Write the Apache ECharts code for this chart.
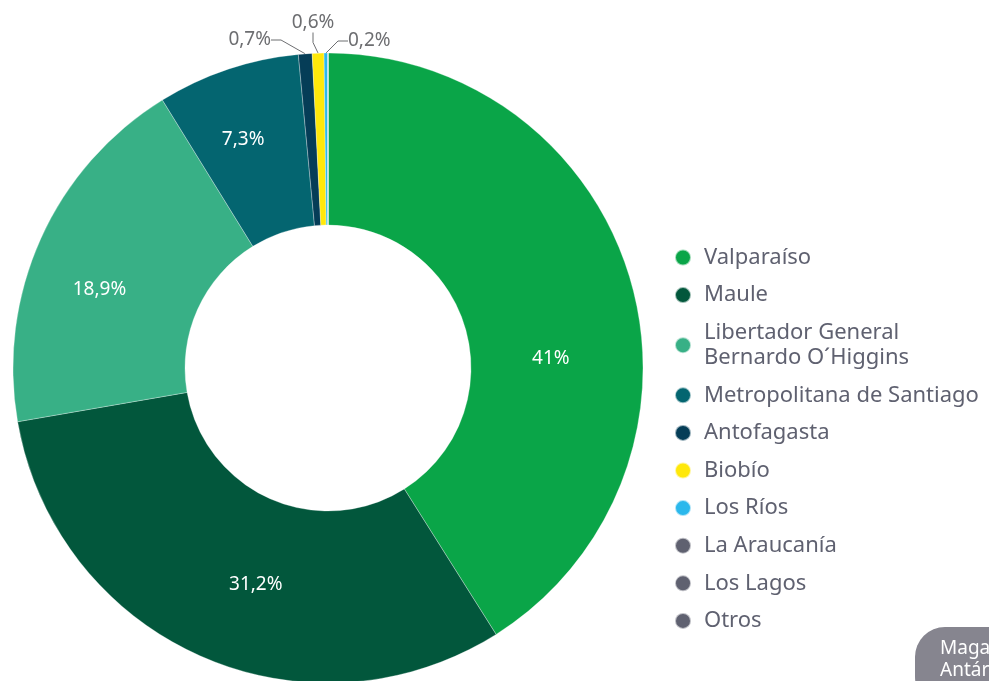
<!DOCTYPE html>
<html>
<head>
<meta charset="utf-8">
<script src="https://cdn.jsdelivr.net/npm/echarts@6/dist/echarts.min.js"></script>
<style>
    html, body { margin: 0; padding: 0; background: #fff; }
    #chart { width: 989px; height: 681px; }
</style>
</head>
<body>
<div id="chart"></div>
<script>
// datos
let regiones = ['Valparaíso', 'Maule', 'Libertador General\nBernardo O´Higgins', 'Metropolitana de Santiago',
    'Antofagasta', 'Biobío', 'Los Ríos', 'La Araucanía', 'Los Lagos', 'Otros']
let valores = [41, 31.2, 18.9, 7.3, 0.7, 0.6, 0.2, 0, 0, 0]
let colores = ['#0aa548', '#02573c', '#38b086', '#046570', '#053d57', '#ffe80a', '#2bb8ec', '#5f6170', '#5f6170', '#5f6170']

let _$ = (dom) => document.querySelector(dom)
let fuente = '"Noto Sans", sans-serif'

let fmt = (v) => String(v).replace('.', ',') + '%'

// posiciones de las etiquetas pequeñas (fuera del anillo)
let etiquetasFuera = {
    4: { x: 271, y: 40, align: 'right' },
    5: { x: 313, y: 23, align: 'center' },
    6: { x: 348, y: 41, align: 'left' }
}
// ajuste fino de las etiquetas interiores
let ajusteDentro = {
    0: { dx: 0, dy: 55 },
    1: { dx: 22, dy: 5 },
    2: { dx: -17, dy: 17 },
    3: { dx: -11, dy: -8 }
}

let renderChart = () => {
    let data = regiones.map((name, i) => {
        let item = {
            name: name,
            value: valores[i],
            itemStyle: { color: colores[i] }
        }
        if (valores[i] === 0) {
            item.label = { show: false }
            item.labelLine = { show: false }
        } else if (valores[i] < 1) {
            item.label = {
                position: 'outside',
                color: '#6d6e71',
                fontSize: 19
            }
            item.labelLine = { show: true, length: 6, length2: 10, lineStyle: { color: '#6d6e71', width: 1 } }
        }
        return item
    })

    let option = {
        animation: false,
        legend: {
            orient: 'vertical',
            left: 669,
            top: 240,
            icon: 'circle',
            itemWidth: 16,
            itemHeight: 16,
            itemGap: 12.6,
            selectedMode: false,
            textStyle: {
                fontFamily: fuente,
                fontSize: 22,
                color: '#5f6170',
                lineHeight: 25,
                padding: [0, 0, 0, 8]
            },
            data: regiones
        },
        graphic: [{
            type: 'rect',
            left: 915,
            top: 627,
            shape: { width: 120, height: 80, r: 30 },
            style: { fill: '#86858f' }
        }, {
            type: 'text',
            left: 940,
            top: 638,
            style: {
                text: 'Magallanes y\nAntártica',
                fill: '#fff',
                fontFamily: fuente,
                fontSize: 19,
                lineHeight: 22
            }
        }],
        series: [{
            type: 'pie',
            center: [328, 368],
            radius: [143, 315],
            startAngle: 90,
            clockwise: true,
            avoidLabelOverlap: false,
            itemStyle: { borderColor: 'rgba(255,255,255,0.6)', borderWidth: 0.5 },
            label: {
                position: 'inner',
                color: '#fff',
                fontFamily: fuente,
                fontSize: 19,
                formatter: (p) => fmt(p.value)
            },
            labelLayout: (params) => {
                let e = etiquetasFuera[params.dataIndex]
                if (e) return { x: e.x, y: e.y, align: e.align, verticalAlign: 'middle' }
                let a = ajusteDentro[params.dataIndex]
                if (a) return { dx: a.dx, dy: a.dy }
                return {}
            },
            emphasis: { disabled: true },
            data: data
        }]
    }
    let myChart = echarts.init(_$('#chart'))
    myChart.setOption(option)
}
renderChart()
</script>
</body>
</html>
